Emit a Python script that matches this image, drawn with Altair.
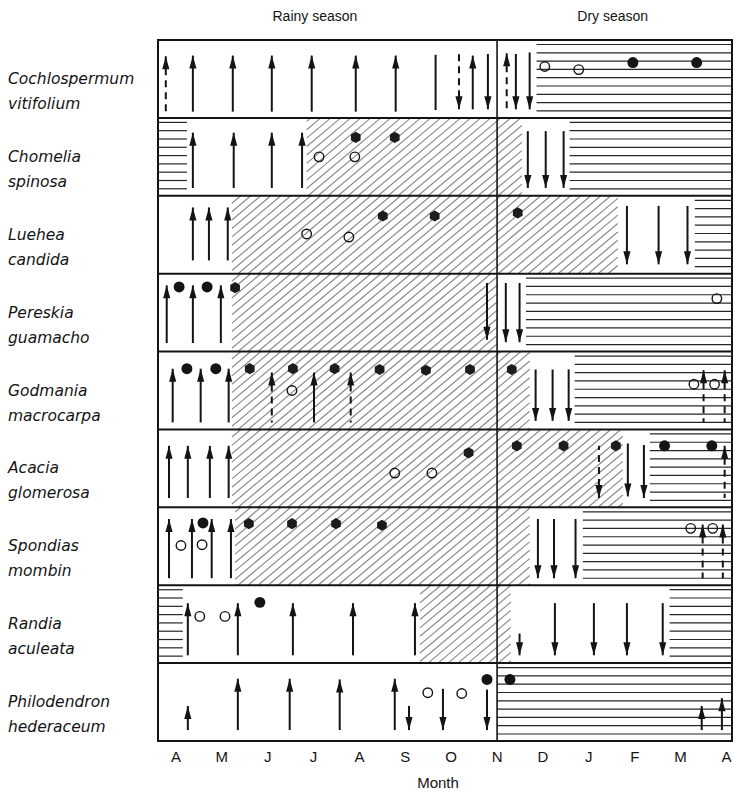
import json
import math

import altair as alt
import pandas as pd

# ---------------------------------------------------------------- data
SPECIES = [
    "Cochlospermum\nvitifolium",
    "Chomelia\nspinosa",
    "Luehea\ncandida",
    "Pereskia\nguamacho",
    "Godmania\nmacrocarpa",
    "Acacia\nglomerosa",
    "Spondias\nmombin",
    "Randia\naculeata",
    "Philodendron\nhederaceum",
]
MONTHS = ["A", "M", "J", "J", "A", "S", "O", "N", "D", "J", "F", "M", "A"]
SEASONS = ["Rainy season", "Dry season"]
SEASON_X = [3.03, 9.52]
DRY_START = 7.0          # November: start of the dry season
X_MIN, X_MAX = -0.39, 12.12

# leafless periods (horizontal shading): (row, from, to) in months from April
LEAFLESS = [
    (0, 7.86, X_MAX),
    (1, X_MIN, 0.24), (1, 8.58, X_MAX),
    (2, 11.31, X_MAX),
    (3, 7.63, X_MAX),
    (4, 8.69, X_MAX),
    (5, 10.33, X_MAX),
    (6, 8.87, X_MAX),
    (7, X_MIN, 0.15), (7, 10.76, X_MAX),
    (8, 7.0, X_MAX),
]
# full-leaf periods (diagonal shading)
FULL_LEAF = [
    (1, 2.85, 7.54),
    (2, 1.22, 9.63),
    (3, 1.22, 7.0),
    (4, 1.22, 7.71),
    (5, 1.22, 9.74),
    (6, 1.29, 7.71),
    (7, 5.32, 7.30),
]

# arrows: (row, month, top, bottom, direction, style); top/bottom as fraction of row
ARROWS = [
    (0, -0.22, 0.21, 0.92, "up", "dashed"),
    (0, 0.37, 0.20, 0.92, "up", "solid"),
    (0, 1.24, 0.20, 0.92, "up", "solid"),
    (0, 2.09, 0.20, 0.92, "up", "solid"),
    (0, 2.96, 0.20, 0.92, "up", "solid"),
    (0, 3.92, 0.20, 0.92, "up", "solid"),
    (0, 4.79, 0.20, 0.92, "up", "solid"),
    (0, 5.66, 0.19, 0.90, "none", "solid"),
    (0, 6.17, 0.18, 0.89, "down", "dashed"),
    (0, 6.47, 0.20, 0.89, "up", "solid"),
    (0, 6.80, 0.18, 0.89, "down", "solid"),
    (0, 7.21, 0.17, 0.89, "up", "dashed"),
    (0, 7.41, 0.18, 0.89, "down", "solid"),
    (0, 7.71, 0.16, 0.89, "down", "solid"),

    (1, 0.37, 0.19, 0.90, "up", "solid"),
    (1, 1.26, 0.19, 0.90, "up", "solid"),
    (1, 2.09, 0.19, 0.90, "up", "solid"),
    (1, 2.75, 0.19, 0.90, "up", "solid"),
    (1, 7.67, 0.17, 0.90, "down", "solid"),
    (1, 8.06, 0.17, 0.90, "down", "solid"),
    (1, 8.45, 0.17, 0.90, "down", "solid"),

    (2, 0.37, 0.15, 0.83, "up", "solid"),
    (2, 0.72, 0.15, 0.83, "up", "solid"),
    (2, 1.13, 0.15, 0.83, "up", "solid"),
    (2, 9.83, 0.13, 0.88, "down", "solid"),
    (2, 10.52, 0.13, 0.88, "down", "solid"),
    (2, 11.15, 0.13, 0.88, "down", "solid"),

    (3, -0.20, 0.15, 0.89, "up", "solid"),
    (3, 0.37, 0.15, 0.89, "up", "solid"),
    (3, 0.98, 0.15, 0.89, "up", "solid"),
    (3, 6.78, 0.12, 0.85, "down", "solid"),
    (3, 7.19, 0.12, 0.88, "down", "solid"),
    (3, 7.49, 0.12, 0.88, "down", "solid"),

    (4, -0.07, 0.22, 0.91, "up", "solid"),
    (4, 0.54, 0.22, 0.91, "up", "solid"),
    (4, 1.15, 0.22, 0.91, "up", "solid"),
    (4, 2.09, 0.27, 0.91, "up", "dashed"),
    (4, 3.01, 0.27, 0.91, "up", "solid"),
    (4, 3.81, 0.27, 0.91, "up", "dashed"),
    (4, 7.84, 0.23, 0.89, "down", "solid"),
    (4, 8.21, 0.23, 0.89, "down", "solid"),
    (4, 8.56, 0.23, 0.89, "down", "solid"),
    (4, 11.50, 0.24, 0.91, "up", "dashed"),
    (4, 11.96, 0.24, 0.91, "up", "dashed"),

    (5, -0.15, 0.21, 0.88, "up", "solid"),
    (5, 0.26, 0.21, 0.88, "up", "solid"),
    (5, 0.74, 0.21, 0.88, "up", "solid"),
    (5, 1.15, 0.21, 0.88, "up", "solid"),
    (5, 9.22, 0.21, 0.88, "down", "dashed"),
    (5, 9.85, 0.18, 0.86, "down", "solid"),
    (5, 10.20, 0.20, 0.88, "down", "solid"),
    (5, 11.96, 0.21, 0.88, "up", "dashed"),

    (6, -0.15, 0.15, 0.91, "up", "solid"),
    (6, 0.35, 0.15, 0.91, "up", "solid"),
    (6, 0.78, 0.15, 0.91, "up", "solid"),
    (6, 1.20, 0.15, 0.91, "up", "solid"),
    (6, 7.89, 0.15, 0.91, "down", "solid"),
    (6, 8.24, 0.15, 0.91, "down", "solid"),
    (6, 8.71, 0.15, 0.91, "down", "solid"),
    (6, 11.48, 0.22, 0.91, "up", "dashed"),
    (6, 11.92, 0.22, 0.91, "up", "dashed"),

    (7, 0.26, 0.23, 0.90, "up", "solid"),
    (7, 1.35, 0.23, 0.90, "up", "solid"),
    (7, 2.55, 0.23, 0.90, "up", "solid"),
    (7, 3.86, 0.23, 0.90, "up", "solid"),
    (7, 5.21, 0.23, 0.90, "up", "solid"),
    (7, 7.49, 0.62, 0.90, "down", "solid"),
    (7, 8.26, 0.23, 0.90, "down", "solid"),
    (7, 9.11, 0.23, 0.90, "down", "solid"),
    (7, 9.83, 0.23, 0.90, "down", "solid"),
    (7, 10.61, 0.23, 0.90, "down", "solid"),

    (8, 0.26, 0.55, 0.86, "up", "solid"),
    (8, 1.35, 0.20, 0.86, "up", "solid"),
    (8, 2.48, 0.20, 0.86, "up", "solid"),
    (8, 3.57, 0.21, 0.86, "up", "solid"),
    (8, 4.77, 0.20, 0.86, "up", "solid"),
    (8, 5.08, 0.55, 0.86, "down", "solid"),
    (8, 5.82, 0.33, 0.86, "down", "solid"),
    (8, 6.78, 0.34, 0.86, "down", "solid"),
    (8, 11.46, 0.55, 0.86, "up", "solid"),
    (8, 11.90, 0.45, 0.86, "up", "solid"),
]

# flowers (open) and fruits (filled / hexagonal): (row, month, height in row, kind)
DOTS = [
    (0, 8.04, 0.34, "open"), (0, 8.78, 0.38, "open"),
    (0, 9.96, 0.29, "filled"), (0, 11.35, 0.29, "filled"),

    (1, 3.12, 0.50, "open"), (1, 3.90, 0.50, "open"),
    (1, 3.92, 0.25, "hex"), (1, 4.77, 0.25, "hex"),

    (2, 2.85, 0.49, "open"), (2, 3.77, 0.53, "open"),
    (2, 4.51, 0.26, "hex"), (2, 5.64, 0.26, "hex"), (2, 7.45, 0.22, "hex"),

    (3, 0.07, 0.17, "filled"), (3, 0.68, 0.17, "filled"), (3, 1.29, 0.18, "hex"),
    (3, 11.79, 0.32, "open"),

    (4, 0.24, 0.22, "filled"), (4, 0.87, 0.22, "filled"), (4, 1.61, 0.22, "hex"),
    (4, 2.55, 0.22, "hex"), (4, 3.46, 0.22, "hex"), (4, 4.44, 0.23, "hex"),
    (4, 5.45, 0.24, "hex"), (4, 6.41, 0.23, "hex"), (4, 7.32, 0.23, "hex"),
    (4, 2.53, 0.50, "open"), (4, 11.29, 0.42, "open"), (4, 11.74, 0.42, "open"),

    (5, 6.38, 0.30, "hex"), (5, 7.43, 0.21, "hex"), (5, 8.45, 0.21, "hex"),
    (5, 9.59, 0.21, "hex"), (5, 10.65, 0.21, "filled"), (5, 11.68, 0.21, "filled"),
    (5, 4.77, 0.56, "open"), (5, 5.58, 0.56, "open"),

    (6, 0.11, 0.49, "open"), (6, 0.57, 0.48, "open"), (6, 0.59, 0.20, "filled"),
    (6, 1.59, 0.21, "hex"), (6, 2.53, 0.21, "hex"), (6, 3.49, 0.21, "hex"),
    (6, 4.49, 0.23, "hex"), (6, 11.22, 0.27, "open"), (6, 11.70, 0.27, "open"),

    (7, 0.52, 0.40, "open"), (7, 1.07, 0.40, "open"), (7, 1.83, 0.22, "filled"),

    (8, 5.49, 0.38, "open"), (8, 6.23, 0.39, "open"),
    (8, 6.78, 0.21, "filled"), (8, 7.28, 0.21, "filled"),
]

# ---------------------------------------------------------------- layout
WIDTH, HEIGHT = 574, 701
N_ROWS = len(SPECIES)
PX_X = WIDTH / (X_MAX - X_MIN)
PX_Y = HEIGHT / N_ROWS
INK = "#141414"
HATCH_GAP = 8.3          # px between horizontal shading lines
DIAG_GAP = 10.0          # px between diagonal shading lines (horizontal distance)
DIAG_SLOPE = math.tan(math.radians(40))

XS = alt.Scale(domain=[X_MIN, X_MAX], nice=False, zero=False)
YS = alt.Scale(domain=[0, N_ROWS], nice=False, zero=False, reverse=True)


def horizontal_lines(row, x0, x1):
    out = []
    top, bottom = row * PX_Y, (row + 1) * PX_Y
    y = top + 4.5
    while y < bottom - 2:
        out.append({"x": x0, "x2": x1, "y": y / PX_Y, "y2": y / PX_Y})
        y += HATCH_GAP
    return out


def diagonal_lines(row, x0, x1):
    out = []
    top, bottom = row * PX_Y, (row + 1) * PX_Y
    h = bottom - top
    xa, xb = (x0 - X_MIN) * PX_X, (x1 - X_MIN) * PX_X
    c = math.floor((xa - h / DIAG_SLOPE) / DIAG_GAP) * DIAG_GAP
    while c <= xb:
        t0 = max(0.0, (xa - c) * DIAG_SLOPE)
        t1 = min(h, (xb - c) * DIAG_SLOPE)
        if t1 - t0 > 0.5:
            out.append({
                "x": (c + t0 / DIAG_SLOPE) / PX_X + X_MIN, "y": (bottom - t0) / PX_Y,
                "x2": (c + t1 / DIAG_SLOPE) / PX_X + X_MIN, "y2": (bottom - t1) / PX_Y,
            })
        c += DIAG_GAP
    return out


hatch_h = pd.DataFrame([s for r in LEAFLESS for s in horizontal_lines(*r)])
hatch_d = pd.DataFrame([s for r in FULL_LEAF for s in diagonal_lines(*r)])

arrow_rows = []
for row, x, top, bottom, direction, style in ARROWS:
    tip, tail = (top, bottom) if direction != "down" else (bottom, top)
    arrow_rows.append({"x": x, "tip": row + tip, "tail": row + tail,
                       "dir": direction, "style": style})
arrows = pd.DataFrame(arrow_rows)

dots = pd.DataFrame([{"x": x, "y": row + y, "kind": k} for row, x, y, k in DOTS])
labels = pd.DataFrame({"name": SPECIES, "y": [i + 0.5 for i in range(N_ROWS)]})
seasons = pd.DataFrame({"label": SEASONS, "x": SEASON_X})
months = pd.DataFrame({"label": MONTHS, "x": list(range(len(MONTHS)))})
borders = pd.DataFrame({"y": list(range(1, N_ROWS))})
divider = pd.DataFrame({"x": [DRY_START]})
axis_title = pd.DataFrame({"label": ["Month"], "x": [(len(MONTHS) - 1) / 2]})

UP_HEAD = "M0,0L0.55,2L-0.55,2Z"
DOWN_HEAD = "M0,0L0.55,-2L-0.55,-2Z"
HEXAGON = "M0,-1L0.87,-0.5L0.87,0.5L0,1L-0.87,0.5L-0.87,-0.5Z"

# ---------------------------------------------------------------- layers
X = alt.X("x:Q", scale=XS, axis=None)

seg_enc = dict(x=X, x2="x2:Q", y=alt.Y("y:Q", scale=YS, axis=None), y2="y2:Q")
h_layer = alt.Chart(hatch_h).mark_rule(color="#262626", strokeWidth=1.2).encode(**seg_enc)
d_layer = alt.Chart(hatch_d).mark_rule(color="#8c8c8c", strokeWidth=1.2).encode(**seg_enc)

border_layer = alt.Chart(borders).mark_rule(color=INK, strokeWidth=2).encode(
    y=alt.Y("y:Q", scale=YS, axis=None)
)
divider_layer = alt.Chart(divider).mark_rule(color=INK, strokeWidth=1.6).encode(x=X)

shaft_enc = dict(x=X, y=alt.Y("tip:Q", scale=YS, axis=None), y2="tail:Q")
solid_shafts = alt.Chart(arrows).transform_filter("datum.style == 'solid'").mark_rule(
    color=INK, strokeWidth=2
).encode(**shaft_enc)
dashed_shafts = alt.Chart(arrows).transform_filter("datum.style == 'dashed'").mark_rule(
    color=INK, strokeWidth=2, strokeDash=[7, 5]
).encode(**shaft_enc)

heads = alt.Chart(arrows).transform_filter("datum.dir != 'none'").mark_point(
    filled=True, color=INK, opacity=1, strokeWidth=0, size=169
).encode(
    x=X,
    y=alt.Y("tip:Q", scale=YS, axis=None),
    shape=alt.Shape("dir:N", scale=alt.Scale(domain=["up", "down"], range=[UP_HEAD, DOWN_HEAD]),
                    legend=None),
)

dot_enc = dict(x=X, y=alt.Y("y:Q", scale=YS, axis=None))
open_dots = alt.Chart(dots).transform_filter("datum.kind == 'open'").mark_point(
    shape="circle", filled=False, color=INK, strokeWidth=1.4, size=90, opacity=1
).encode(**dot_enc)
filled_dots = alt.Chart(dots).transform_filter("datum.kind == 'filled'").mark_point(
    shape="circle", filled=True, color=INK, size=120, opacity=1
).encode(**dot_enc)
hex_dots = alt.Chart(dots).transform_filter("datum.kind == 'hex'").mark_point(
    shape=HEXAGON, filled=True, color="#1c1c1c", size=125, opacity=1
).encode(**dot_enc)

name_layer = alt.Chart(labels).mark_text(
    align="left", baseline="middle", font="DejaVu Sans", fontStyle="italic",
    fontSize=15.5, lineBreak="\n", lineHeight=25, color=INK
).encode(
    x=alt.value(-150),
    y=alt.Y("y:Q", scale=YS, axis=None),
    text="name:N",
)

season_layer = alt.Chart(seasons).mark_text(
    align="center", baseline="middle", font="Liberation Sans", fontSize=14, color=INK
).encode(x=X, y=alt.value(-23), text="label:N")

month_layer = alt.Chart(months).mark_text(
    align="center", baseline="middle", font="Liberation Sans", fontSize=15, color=INK
).encode(x=X, y=alt.value(HEIGHT + 16), text="label:N")

title_layer = alt.Chart(axis_title).mark_text(
    align="center", baseline="middle", font="Liberation Sans", fontSize=15, color=INK
).encode(
    x=alt.value(WIDTH / 2 - 7),
    y=alt.value(HEIGHT + 42),
    text="label:N",
)

chart = alt.layer(
    d_layer, h_layer, border_layer, divider_layer,
    solid_shafts, dashed_shafts, heads,
    open_dots, filled_dots, hex_dots,
    name_layer, season_layer, month_layer, title_layer,
).properties(
    width=WIDTH, height=HEIGHT,
    padding={"left": 158, "top": 40, "right": 1, "bottom": 52},
    autosize=alt.AutoSizeParams(type="none"),
).configure(
    background="white",
    view=alt.ViewConfig(stroke=INK, strokeWidth=2),
)

chart.save("out.html", embed_options={"renderer": "svg", "actions": False})
